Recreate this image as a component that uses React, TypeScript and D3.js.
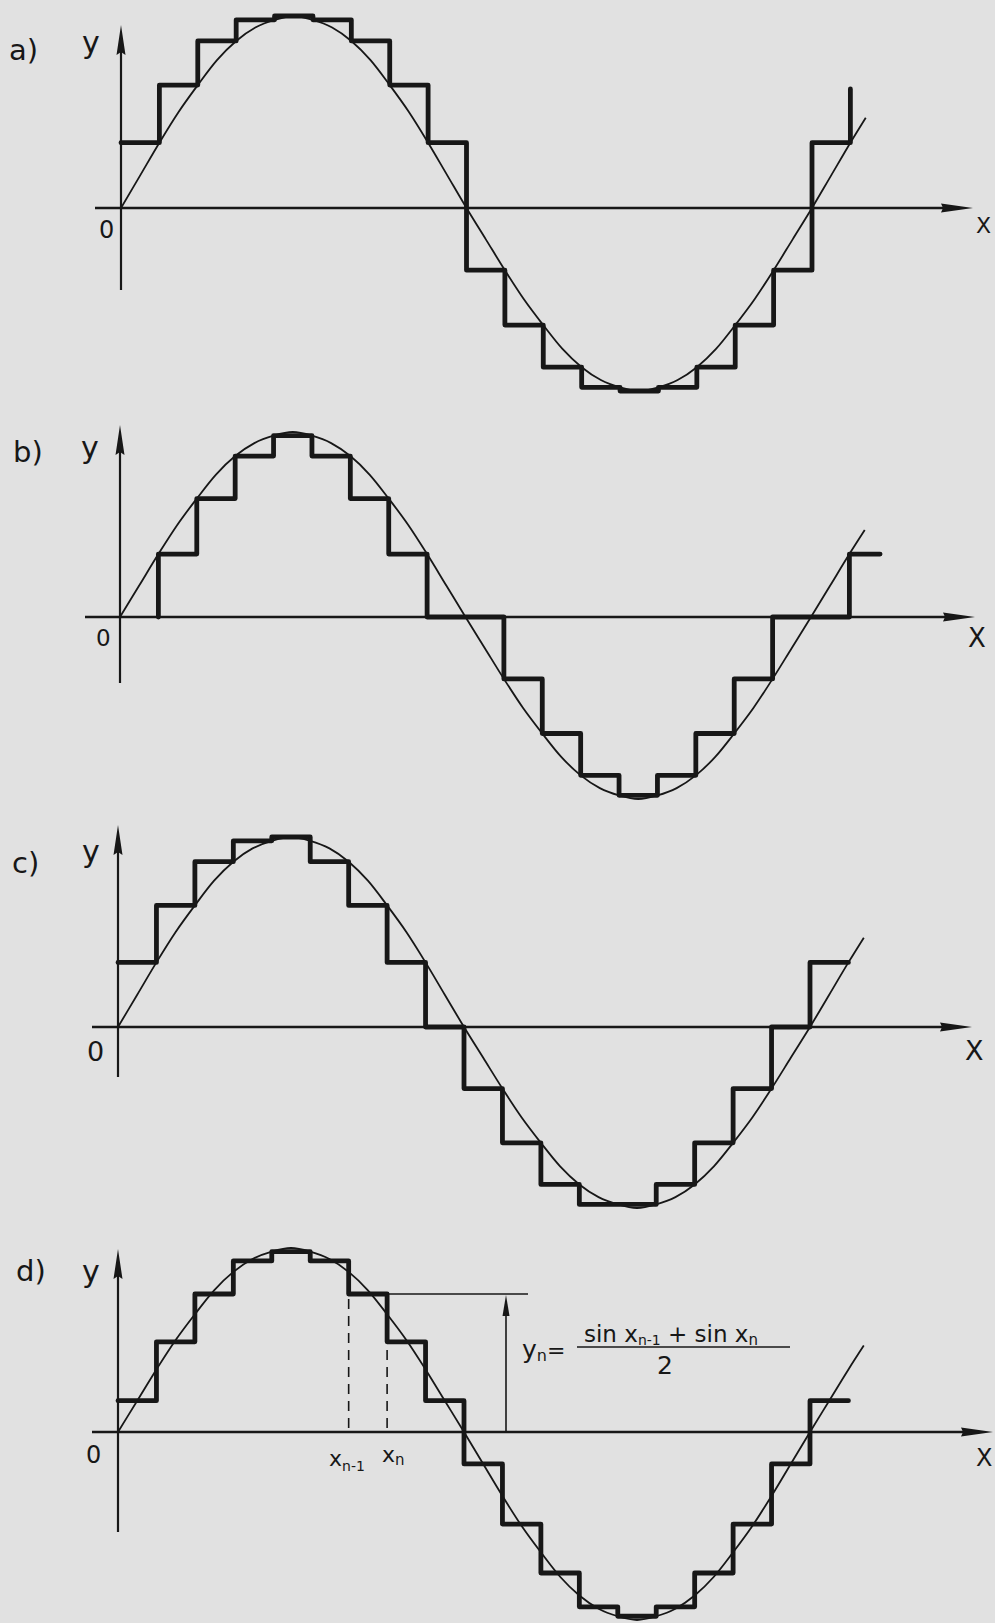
import React, { useEffect } from 'react';
import * as d3 from 'd3';

// Interval boundaries x_0 ... x_19, in degrees
const EDGES_DEG = [0, 20, 40, 60, 80, 100, 120, 140, 160, 180, 200, 220, 240, 260, 280, 300, 320, 340, 360, 380];

// a) staircase above |sin x| (largest value over each interval)
const A_VALUES = [0.34, 0.64, 0.87, 0.98, 1.0, 0.98, 0.87, 0.64, 0.34, -0.34, -0.64, -0.87, -0.98, -1.0, -0.98, -0.87, -0.64, -0.34, 0.34];
const A_TAIL = 0.62;

// b) staircase inside the curve (smallest value over each interval)
const B_EDGES = [...EDGES_DEG, 396];
const B_VALUES = [0, 0.34, 0.64, 0.87, 0.98, 0.87, 0.64, 0.34, 0, 0, -0.34, -0.64, -0.87, -0.98, -0.87, -0.64, -0.34, 0, 0, 0.34];

// c) value taken at the right end of each interval
const C_VALUES = [0.34, 0.64, 0.87, 0.98, 1.0, 0.87, 0.64, 0.34, 0, -0.34, -0.64, -0.87, -0.98, -0.98, -0.87, -0.64, -0.34, 0, 0.34];

// d) mean of the two end values: y_n = (sin x_{n-1} + sin x_n) / 2
const D_VALUES = [0.17, 0.49, 0.75, 0.93, 0.98, 0.93, 0.75, 0.49, 0.17, -0.17, -0.49, -0.75, -0.93, -0.98, -0.93, -0.75, -0.49, -0.17, 0.17];

// the sine curve, sampled every 10 degrees
const CURVE_DEG = [0, 10, 20, 30, 40, 50, 60, 70, 80, 90, 100, 110, 120, 130, 140, 150, 160, 170, 180, 190, 200, 210, 220, 230, 240, 250, 260, 270, 280, 290, 300, 310, 320, 330, 340, 350, 360, 370, 380, 388];
const CURVE_SIN = [0, 0.17, 0.34, 0.5, 0.64, 0.77, 0.87, 0.94, 0.98, 1.0, 0.98, 0.94, 0.87, 0.77, 0.64, 0.5, 0.34, 0.17, 0, -0.17, -0.34, -0.5, -0.64, -0.77, -0.87, -0.94, -0.98, -1.0, -0.98, -0.94, -0.87, -0.77, -0.64, -0.5, -0.34, -0.17, 0, 0.17, 0.34, 0.47];

// interval marked in panel d: x_{n-1}, x_n
const MARK_DEG = [120, 140];
const MARK_INDEX = 6;

const BG = '#e1e1e1';
const INK = '#171717';
const FONT = 'DejaVu Sans, sans-serif';

type PanelDef = {
  label: string;
  values: number[];
  edges: number[];
  tail?: number;
  ox: number;
  x360: number;
  oy: number;
  up: number;
  down: number;
  axisL: number;
  axisR: number;
  yTop: number;
  yBot: number;
  lab: [number, number];
  yLab: [number, number];
  zero: [number, number, number];
  xLab: [number, number, number];
};

const PANELS: PanelDef[] = [
  {
    label: 'a)', values: A_VALUES, edges: EDGES_DEG, tail: A_TAIL,
    ox: 121, x360: 812, oy: 208, up: 192, down: 183,
    axisL: 95, axisR: 973, yTop: 25, yBot: 290,
    lab: [9, 60], yLab: [82, 53], zero: [99, 238, 24], xLab: [976, 233, 22],
  },
  {
    label: 'b)', values: B_VALUES, edges: B_EDGES,
    ox: 120, x360: 811, oy: 617, up: 185, down: 182,
    axisL: 85, axisR: 975, yTop: 425, yBot: 683,
    lab: [13, 462], yLab: [81, 458], zero: [96, 646, 23], xLab: [968, 647, 26],
  },
  {
    label: 'c)', values: C_VALUES, edges: EDGES_DEG,
    ox: 118, x360: 810, oy: 1027, up: 190, down: 181,
    axisL: 92, axisR: 972, yTop: 825, yBot: 1077,
    lab: [12, 873], yLab: [82, 862], zero: [87, 1061, 27], xLab: [965, 1060, 27],
  },
  {
    label: 'd)', values: D_VALUES, edges: EDGES_DEG,
    ox: 118, x360: 810, oy: 1432, up: 184, down: 188,
    axisL: 92, axisR: 993, yTop: 1249, yBot: 1532,
    lab: [16, 1281], yLab: [82, 1282], zero: [86, 1463, 24], xLab: [976, 1466, 24],
  },
];

function scales(p: PanelDef) {
  const x = d3.scaleLinear().domain([0, 360]).range([p.ox, p.x360]);
  const y = d3.scaleLinear().domain([-1, 0, 1]).range([p.oy + p.down, p.oy, p.oy - p.up]);
  return { x, y };
}

function Panel({ p }: { p: PanelDef }) {
  const { x, y } = scales(p);

  const curvePath = d3
    .line<number>()
    .x((_, i) => x(CURVE_DEG[i]))
    .y((v) => y(v))
    .curve(d3.curveMonotoneX)(CURVE_SIN);

  // staircase corners: horizontal run over each interval, riser at each boundary
  const pts: [number, number][] = [];
  let start = 0;
  while (start < p.values.length && p.values[start] === 0) start++;
  if (start > 0) pts.push([p.edges[start], 0]);
  for (let i = start; i < p.values.length; i++) {
    pts.push([p.edges[i], p.values[i]]);
    pts.push([p.edges[i + 1], p.values[i]]);
  }
  if (p.tail !== undefined) pts.push([p.edges[p.values.length], p.tail]);
  const stairPath = d3
    .line<[number, number]>()
    .x((d) => x(d[0]))
    .y((d) => y(d[1]))(pts);

  const ax = x(0);
  const ay = y(0);

  return (
    <g>
      {/* axes */}
      <line x1={p.axisL} y1={ay} x2={p.axisR - 20} y2={ay} stroke={INK} strokeWidth={2.4} />
      <path d={`M${p.axisR},${ay} L${p.axisR - 32},${ay - 4.5} L${p.axisR - 30},${ay} L${p.axisR - 32},${ay + 4.5} Z`} fill={INK} />
      <line x1={ax} y1={p.yBot} x2={ax} y2={p.yTop + 20} stroke={INK} strokeWidth={2.2} />
      <path d={`M${ax},${p.yTop} L${ax - 4.5},${p.yTop + 30} L${ax},${p.yTop + 27} L${ax + 4.5},${p.yTop + 30} Z`} fill={INK} />

      {/* sine curve */}
      <path d={curvePath ?? ''} fill="none" stroke={INK} strokeWidth={1.8} />

      {/* staircase */}
      <path d={stairPath ?? ''} fill="none" stroke={INK} strokeWidth={4.8} strokeLinejoin="round" strokeLinecap="round" />

      {/* labels */}
      <text x={p.lab[0]} y={p.lab[1]} fontSize={29} fill={INK} fontFamily={FONT}>{p.label}</text>
      <text x={p.yLab[0]} y={p.yLab[1]} fontSize={30} fill={INK} fontFamily={FONT}>y</text>
      <text x={p.zero[0]} y={p.zero[1]} fontSize={p.zero[2]} fill={INK} fontFamily={FONT}>0</text>
      <text x={p.xLab[0]} y={p.xLab[1]} fontSize={p.xLab[2]} fill={INK} fontFamily={FONT}>X</text>
    </g>
  );
}

function MeanAnnotation() {
  const p = PANELS[3];
  const { x, y } = scales(p);
  const x1 = x(MARK_DEG[0]);
  const x2 = x(MARK_DEG[1]);
  const yl = y(D_VALUES[MARK_INDEX]);
  const ay = y(0);
  const arrowX = 506;
  return (
    <g fill={INK} fontFamily={FONT}>
      {/* dashed guides at x_{n-1} and x_n */}
      <line x1={x1} y1={yl + 5} x2={x1} y2={ay} stroke={INK} strokeWidth={1.6} strokeDasharray="10,7" />
      <line x1={x2} y1={yl + 5} x2={x2} y2={ay} stroke={INK} strokeWidth={1.6} strokeDasharray="10,7" />
      {/* level line and arrow */}
      <line x1={x2} y1={yl} x2={528} y2={yl} stroke={INK} strokeWidth={1.5} />
      <line x1={arrowX} y1={ay} x2={arrowX} y2={yl + 8} stroke={INK} strokeWidth={1.6} />
      <path d={`M${arrowX},${yl + 1} L${arrowX - 3.5},${yl + 22} L${arrowX + 3.5},${yl + 22} Z`} />

      {/* x_{n-1}, x_n */}
      <text x={329} y={1466} fontSize={22}>x<tspan fontSize={14} dy={5}>n-1</tspan></text>
      <text x={382} y={1462} fontSize={22}>x<tspan fontSize={15} dy={3}>n</tspan></text>

      {/* formula */}
      <text x={522} y={1358} fontSize={25}>y<tspan fontSize={16} dy={3}>n</tspan><tspan dy={-3} fontSize={22}>=</tspan></text>
      <text x={584} y={1342} fontSize={23}>
        sin x<tspan fontSize={14} dy={3}>n-1</tspan>
        <tspan dy={-3}> + sin x</tspan>
        <tspan fontSize={15} dy={3}>n</tspan>
      </text>
      <line x1={577} y1={1347} x2={790} y2={1347} stroke={INK} strokeWidth={1.6} />
      <text x={657} y={1374} fontSize={25}>2</text>
    </g>
  );
}

export default function App() {
  useEffect(() => {
    document.body.style.margin = '0';
    document.body.style.background = BG;
  }, []);
  return (
    <svg width={995} height={1623} style={{ display: 'block', background: BG }}>
      <rect width={995} height={1623} fill={BG} />
      {PANELS.map((p) => (
        <Panel key={p.label} p={p} />
      ))}
      <MeanAnnotation />
    </svg>
  );
}
